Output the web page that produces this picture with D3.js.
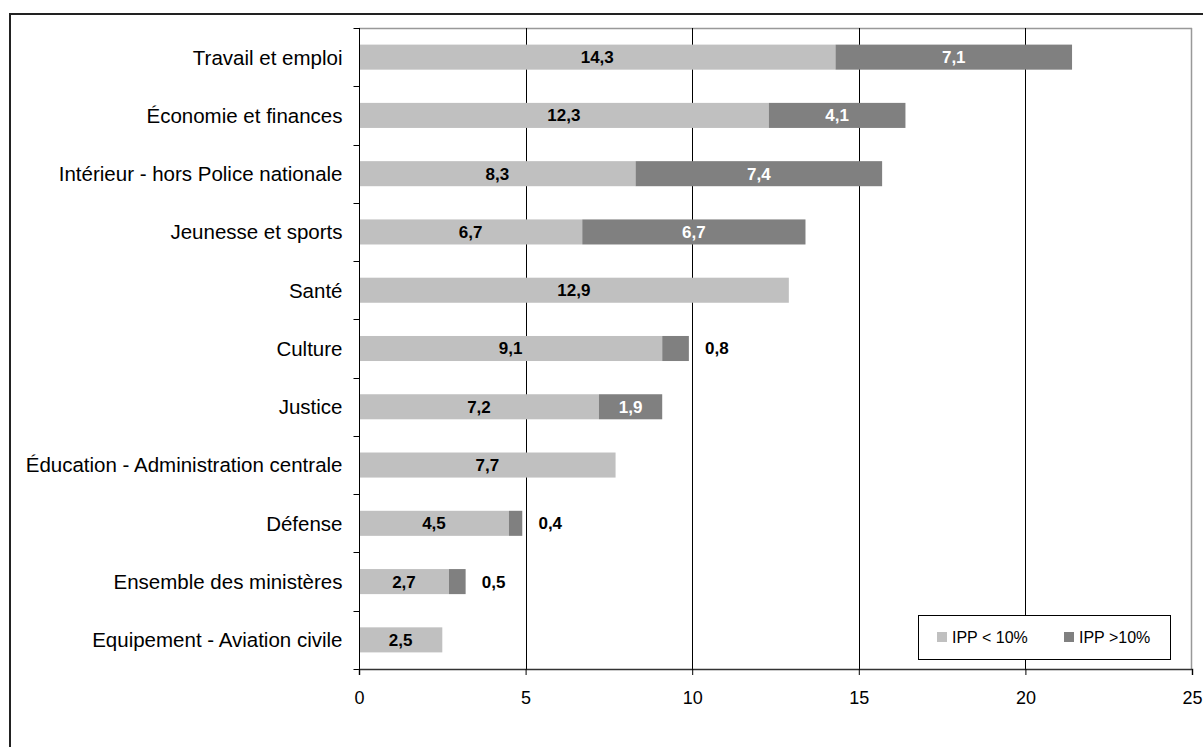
<!DOCTYPE html>
<html><head><meta charset="utf-8">
<script src="https://cdn.jsdelivr.net/npm/d3@7"></script>
<style>html,body{margin:0;padding:0;background:#fff;}svg{display:block;font-family:"Liberation Sans",Arial,sans-serif;}</style>
</head><body>
<svg id="chart" width="1203" height="747"></svg>
<script>
const categories = ["Travail et emploi","Économie et finances","Intérieur - hors Police nationale","Jeunesse et sports","Santé","Culture","Justice","Éducation - Administration centrale","Défense","Ensemble des ministères","Equipement - Aviation civile"];
const ippLow = [14.3,12.3,8.3,6.7,12.9,9.1,7.2,7.7,4.5,2.7,2.5];
const ippHigh = [7.1,4.1,7.4,6.7,0,0.8,1.9,0,0.4,0.5,0];
const seriesNames = ["IPP < 10%","IPP >10%"];
const xTicks = [0,5,10,15,20,25];

(function(){
const svg = d3.select("#chart");
const pL = 359, pR = 1192, pT = 28, pB = 669;
const fmt = v => v.toFixed(1).replace(".", ",");

// outer frame
svg.append("rect").attr("x",10).attr("y",14).attr("width",1203).attr("height",760)
  .attr("fill","none").attr("stroke","#222").attr("stroke-width",2);

const x = d3.scaleLinear().domain([0,25]).range([pL,pR]);
const y = d3.scaleBand().domain(categories).range([pT,pB]);
const barH = y.bandwidth()*0.43;

// plot border (gray) top & right
svg.append("line").attr("x1",pL).attr("x2",pR).attr("y1",pT+0.5).attr("y2",pT+0.5).attr("stroke","#999").attr("stroke-width",1.5);
svg.append("line").attr("x1",pR-0.5).attr("x2",pR-0.5).attr("y1",pT).attr("y2",pB).attr("stroke","#999").attr("stroke-width",1.5);

// gridlines
svg.append("g").selectAll("line").data(xTicks.filter(t=>t>0&&t<25)).join("line")
  .attr("x1",d=>Math.round(x(d))+0.5).attr("x2",d=>Math.round(x(d))+0.5)
  .attr("y1",pT).attr("y2",pB).attr("stroke","#000").attr("stroke-width",1);

const colors = ["#C0C0C0","#808080"];
const rows = categories.map((c,i)=>({c, a:ippLow[i], b:ippHigh[i]}));

const g = svg.append("g");
rows.forEach(r=>{
  const yc = y(r.c)+y.bandwidth()/2;
  g.append("rect").attr("x",x(0)).attr("y",yc-barH/2).attr("width",x(r.a)-x(0)).attr("height",barH).attr("fill",colors[0]);
  if (r.b>0) g.append("rect").attr("x",x(r.a)).attr("y",yc-barH/2).attr("width",x(r.a+r.b)-x(r.a)).attr("height",barH).attr("fill",colors[1]);
  g.append("text").attr("x",(x(0)+x(r.a))/2).attr("y",yc).attr("dy","0.35em").attr("text-anchor","middle")
    .attr("font-size",17).attr("font-weight","bold").attr("fill","#000").text(fmt(r.a));
  if (r.b>0) {
    if (r.b>=1) {
      g.append("text").attr("x",(x(r.a)+x(r.a+r.b))/2).attr("y",yc).attr("dy","0.35em").attr("text-anchor","middle")
        .attr("font-size",17).attr("font-weight","bold").attr("fill","#fff").text(fmt(r.b));
    } else {
      g.append("text").attr("x",x(r.a+r.b)+28).attr("y",yc).attr("dy","0.35em").attr("text-anchor","middle")
        .attr("font-size",17).attr("font-weight","bold").attr("fill","#000").text(fmt(r.b));
    }
  }
});

// y axis
const ya = svg.append("g").attr("transform",`translate(${pL+0.5},0)`);
ya.append("line").attr("y1",pT).attr("y2",pB).attr("stroke","#000");
const bounds = categories.map(c=>y(c)).concat([pB]);
ya.selectAll("line.t").data(bounds).join("line").attr("class","t")
  .attr("x1",-6).attr("x2",0).attr("y1",d=>Math.round(d)+0.5).attr("y2",d=>Math.round(d)+0.5).attr("stroke","#000");
ya.selectAll("text").data(categories).join("text")
  .attr("x",-17).attr("y",d=>y(d)+y.bandwidth()/2).attr("dy","0.36em").attr("text-anchor","end")
  .attr("font-size",20.5).attr("fill","#000").text(d=>d);

// x axis
const xa = svg.append("g").attr("transform",`translate(0,${pB})`)
  .call(d3.axisBottom(x).tickValues(xTicks).tickSize(6).tickPadding(16).tickFormat(d3.format("d")));
xa.select(".domain").attr("stroke","#333").attr("stroke-width",1.5);
xa.selectAll(".tick line").attr("stroke","#000");
xa.selectAll(".tick text").attr("font-size",18).attr("font-family","Liberation Sans, Arial, sans-serif").attr("fill","#000");

// legend
const lg = svg.append("g");
lg.append("rect").attr("x",918.5).attr("y",615.5).attr("width",252).attr("height",44).attr("fill","#fff").attr("stroke","#000");
const lx = [937,1064];
seriesNames.forEach((n,i)=>{
  lg.append("rect").attr("x",lx[i]).attr("y",632).attr("width",10).attr("height",10).attr("fill",colors[i]);
  lg.append("text").attr("x",lx[i]+15).attr("y",637).attr("dy","0.35em").attr("font-size",16).attr("fill","#000").text(n);
});
})();
</script>
</body></html>
